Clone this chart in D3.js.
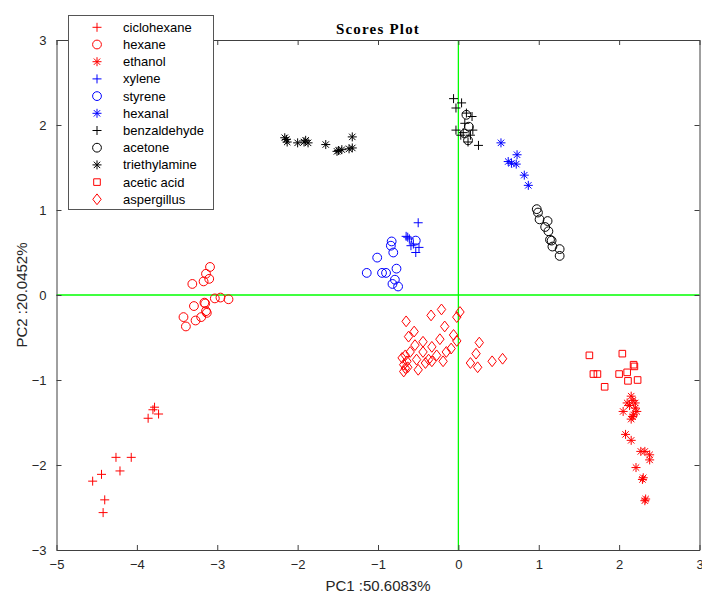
<!DOCTYPE html>
<html>
<head>
<meta charset="utf-8">
<script src="https://d3js.org/d3.v7.min.js"></script>
<style>
  body { margin: 0; background: #fff; }
  text { font-family: "Liberation Sans", Arial, sans-serif; }
</style>
</head>
<body>
<svg width="702" height="595"></svg>
<script>
// series names, in legend order
var categories = ["ciclohexane", "hexane", "ethanol", "xylene", "styrene", "hexanal",
  "benzaldehyde", "acetone", "triethylamine", "acetic acid", "aspergillus"];
var colors = ["red", "red", "red", "blue", "blue", "blue", "black", "black", "black", "red", "red"];
var shapes = ["plus", "circle", "star", "plus", "circle", "star", "plus", "circle", "star", "square", "diamond"];

// PC1 / PC2 scores
var ciclohexane = [[-3.78,-1.32],[-3.80,-1.35],[-3.73,-1.40],[-3.86,-1.45],[-4.55,-2.19],[-4.44,-2.11],
  [-4.26,-1.91],[-4.07,-1.91],[-4.21,-2.07],[-4.40,-2.41],[-4.42,-2.56]];
var hexane = [[-3.09,0.33],[-3.14,0.25],[-3.10,0.19],[-3.17,0.16],[-3.31,0.13],[-3.03,-0.04],
  [-2.96,-0.03],[-2.86,-0.05],[-3.16,-0.09],[-3.15,-0.10],[-3.29,-0.13],[-3.14,-0.19],[-3.13,-0.21],
  [-3.20,-0.26],[-3.27,-0.30],[-3.42,-0.26],[-3.39,-0.37]];
var ethanol = [[2.15,-1.19],[2.10,-1.27],[2.20,-1.27],[2.17,-1.24],[2.13,-1.30],[2.05,-1.37],
  [2.22,-1.37],[2.18,-1.41],[2.20,-1.33],[2.15,-1.46],[2.17,-1.43],[2.08,-1.64],[2.15,-1.71],
  [2.27,-1.84],[2.32,-1.84],[2.38,-1.88],[2.38,-1.94],[2.21,-2.03],[2.29,-2.17],[2.30,-2.15],
  [2.33,-2.40],[2.32,-2.42]];
var xylene = [[-0.50,0.85],[-0.65,0.69],[-0.63,0.68],[-0.61,0.66],[-0.59,0.58],[-0.49,0.56],
  [-0.53,0.50],[-0.56,0.60]];
var styrene = [[-0.83,0.63],[-0.84,0.58],[-0.81,0.50],[-1.01,0.44],[-0.53,0.64],[-0.77,0.31],
  [-1.14,0.26],[-0.95,0.26],[-0.90,0.26],[-0.79,0.18],[-0.82,0.13],[-0.75,0.10]];
var hexanal = [[0.53,1.79],[0.73,1.65],[0.62,1.57],[0.66,1.55],[0.72,1.54],[0.82,1.41],[0.87,1.29]];
var benzaldehyde = [[-0.06,2.31],[0.04,2.26],[-0.03,2.20],[0.10,2.14],[0.17,2.10],[0.08,2.02],
  [-0.03,1.94],[0.06,1.91],[0.18,1.94],[0.15,1.88],[0.12,1.80],[0.25,1.76],[0.03,1.88]];
var acetone = [[0.10,2.12],[0.13,1.98],[0.08,1.90],[0.12,1.82],[0.975,1.01],[0.99,0.97],
  [1.01,0.89],[1.11,0.87],[1.08,0.80],[1.12,0.75],[1.14,0.65],[1.16,0.64],[1.17,0.57],
  [1.26,0.54],[1.26,0.46]];
var triethylamine = [[-2.16,1.85],[-2.13,1.80],[-2.14,1.83],[-2.00,1.79],[-1.90,1.82],[-1.87,1.79],
  [-1.92,1.80],[-1.65,1.77],[-1.51,1.69],[-1.49,1.70],[-1.45,1.71],[-1.32,1.86],[-1.32,1.73],[-1.36,1.72]];
var aceticAcid = [[1.63,-0.71],[2.04,-0.69],[2.18,-0.82],[2.19,-0.84],[1.68,-0.93],[1.73,-0.93],
  [2.00,-0.93],[2.10,-0.91],[1.82,-1.08],[2.11,-1.01],[2.23,-1.00]];
var aspergillus = [[-0.21,-0.17],[-0.34,-0.24],[0.02,-0.20],[-0.02,-0.26],[-0.65,-0.31],[-0.17,-0.37],
  [-0.55,-0.43],[-0.62,-0.49],[-0.06,-0.47],[-0.23,-0.52],[-0.02,-0.54],[-0.44,-0.55],[0.26,-0.56],
  [-0.54,-0.59],[-0.33,-0.61],[-0.09,-0.63],[-0.15,-0.67],[0.22,-0.69],[-0.44,-0.67],[-0.27,-0.71],
  [-0.60,-0.67],[-0.66,-0.71],[-0.37,-0.76],[-0.19,-0.78],[-0.52,-0.76],[0.42,-0.78],[0.55,-0.75],
  [0.15,-0.80],[0.24,-0.85],[-0.50,-0.88],[-0.68,-0.82],[-0.68,-0.90],[-0.64,-0.78],[-0.70,-0.74],
  [-0.41,-0.80],[-0.33,-0.78],[-0.63,-0.85],[-0.66,-0.86]];

var series = [ciclohexane, hexane, ethanol, xylene, styrene, hexanal,
  benzaldehyde, acetone, triethylamine, aceticAcid, aspergillus];

var xTicks = [-5, -4, -3, -2, -1, 0, 1, 2, 3];
var yTicks = [-3, -2, -1, 0, 1, 2, 3];

var svg = d3.select("svg");
var x = d3.scaleLinear().domain([-5, 3]).range([56.5, 699.5]);
var y = d3.scaleLinear().domain([-3, 3]).range([550, 40]);
var axisColor = "#404040";

// marker path for a shape name, centred on 0,0
function marker(shape) {
  if (shape == "plus") return "M-4.5,0H4.5M0,-4.5V4.5";
  if (shape == "star") return "M-4.5,0H4.5M0,-4.5V4.5M-3.2,-3.2L3.2,3.2M-3.2,3.2L3.2,-3.2";
  if (shape == "circle") return d3.arc()({innerRadius: 0, outerRadius: 4.4, startAngle: 0, endAngle: 2 * Math.PI});
  if (shape == "square") return "M-3.3,-3.3H3.3V3.3H-3.3Z";
  if (shape == "diamond") return "M0,-5.4L4.2,0L0,5.4L-4.2,0Z";
}

// green zero lines
svg.append("line")
  .attr("x1", x(-5)).attr("x2", x(3)).attr("y1", y(0)).attr("y2", y(0))
  .attr("stroke", "#00ff00").attr("stroke-width", 1.3);
svg.append("line")
  .attr("x1", x(0)).attr("x2", x(0)).attr("y1", y(3)).attr("y2", y(-3))
  .attr("stroke", "#00ff00").attr("stroke-width", 1.3);

// points
series.forEach(function(pts, i) {
  svg.append("g").selectAll("path")
    .data(pts)
    .enter().append("path")
    .attr("d", marker(shapes[i]))
    .attr("transform", function(d) { return "translate(" + x(d[0]) + "," + y(d[1]) + ")"; })
    .attr("fill", "none")
    .attr("stroke", colors[i])
    .attr("stroke-width", 1);
});

// axes: ticks point inward, box around plot
function styleAxis(g) {
  g.select(".domain").attr("stroke", axisColor);
  g.selectAll(".tick line").attr("stroke", axisColor);
  g.selectAll(".tick text").attr("fill", "#262626").style("font-size", "13px");
}
var fmt = d3.format("d");
svg.append("g").attr("transform", "translate(0," + y(-3) + ")")
  .call(d3.axisBottom(x).tickValues(xTicks).tickFormat(fmt).tickSize(-5).tickPadding(10).tickSizeOuter(0))
  .call(styleAxis);
svg.append("g").attr("transform", "translate(0," + y(3) + ")")
  .call(d3.axisTop(x).tickValues(xTicks).tickSize(-5).tickFormat("").tickSizeOuter(0))
  .call(styleAxis);
svg.append("g").attr("transform", "translate(" + x(-5) + ",0)")
  .call(d3.axisLeft(y).tickValues(yTicks).tickFormat(fmt).tickSize(-5).tickPadding(10).tickSizeOuter(0))
  .call(styleAxis);
svg.append("g").attr("transform", "translate(" + x(3) + ",0)")
  .call(d3.axisRight(y).tickValues(yTicks).tickSize(-5).tickFormat("").tickSizeOuter(0))
  .call(styleAxis);

// title and axis labels
svg.append("text")
  .attr("x", (x(-5) + x(3)) / 2).attr("y", 34)
  .attr("text-anchor", "middle")
  .style("font-family", "'Liberation Serif', serif")
  .style("font-weight", "bold").style("font-size", "15px").style("letter-spacing", "1.2px")
  .text("Scores Plot");
svg.append("text")
  .attr("x", (x(-5) + x(3)) / 2).attr("y", 591)
  .attr("text-anchor", "middle").attr("fill", "#262626")
  .style("font-size", "15px")
  .text("PC1 :50.6083%");
svg.append("text")
  .attr("transform", "translate(27," + y(0) + ") rotate(-90)")
  .attr("text-anchor", "middle").attr("fill", "#262626")
  .style("font-size", "15px")
  .text("PC2 :20.0452%");

// legend
var legend = svg.append("g");
legend.append("rect")
  .attr("x", 68.5).attr("y", 15.5).attr("width", 145).attr("height", 194)
  .attr("fill", "white").attr("stroke", "#555");
var rows = legend.selectAll("g.row")
  .data(categories)
  .enter().append("g").attr("class", "row")
  .attr("transform", function(d, i) { return "translate(0," + (27.3 + i * 17.2) + ")"; });
rows.append("path")
  .attr("d", function(d, i) { return marker(shapes[i]); })
  .attr("transform", "translate(97,0)")
  .attr("fill", "none")
  .attr("stroke", function(d, i) { return colors[i]; });
rows.append("text")
  .attr("x", 123).attr("dy", "0.35em")
  .style("font-size", "13px")
  .text(function(d) { return d; });
</script>
</body>
</html>
